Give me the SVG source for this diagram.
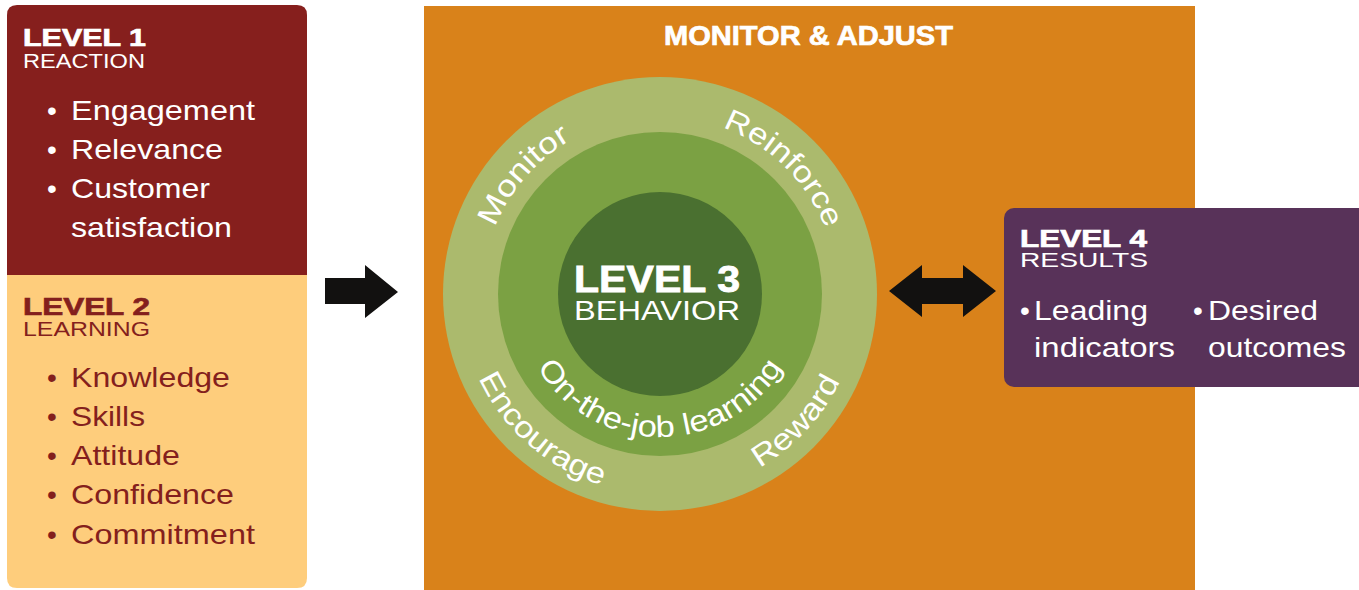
<svg xmlns="http://www.w3.org/2000/svg" width="1359" height="590" viewBox="0 0 1359 590">
<style>
text{font-family:"Liberation Sans",Arial,sans-serif}
.w{fill:#ffffff}
.r{fill:#841F1D}
.h{font-weight:bold;font-size:24px;stroke-width:0.7px}
.h.w{stroke:#ffffff}
.h.r{stroke:#841F1D}
.sub{font-size:21px}
.item{font-size:28px}
.ring{font-size:30px;fill:#ffffff}
.arrow{fill:#121110}
</style>
<defs>
<path id="pMonitor" d="M491.7,352 A178,178 0 0 1 694,119.3"/>
<path id="pReinforce" d="M612.4,122.5 A178,178 0 0 1 832.3,338.6"/>
<path id="pEncourage" d="M463.7,255.8 A200,200 0 0 0 725.1,483.1"/>
<path id="pReward" d="M615,488.9 A200,200 0 0 0 851.3,235.5"/>
<path id="pOjl" d="M517,294 A143,143 0 0 0 803,294"/>
</defs>
<rect x="0" y="0" width="1359" height="590" fill="#ffffff"/>

<g id="monitor-adjust">
<rect x="424" y="6" width="771" height="590" fill="#D9821A"/>
<text x="664" y="45" font-size="27" font-weight="bold" class="w" stroke="#ffffff" stroke-width="0.7" textLength="289" lengthAdjust="spacingAndGlyphs">MONITOR &amp; ADJUST</text>
</g>

<g id="level1">
<path d="M7,15 Q7,5 17,5 H297 Q307,5 307,15 V275 H7 Z" fill="#861F1D"/>
<text x="23" y="46" class="h w" textLength="123" lengthAdjust="spacingAndGlyphs">LEVEL 1</text>
<text x="23" y="68" class="sub w" textLength="122" lengthAdjust="spacingAndGlyphs">REACTION</text>
<g class="item w">
<text x="52" y="120" text-anchor="middle">•</text>
<text x="71" y="120" textLength="184" lengthAdjust="spacingAndGlyphs">Engagement</text>
<text x="52" y="159" text-anchor="middle">•</text>
<text x="71" y="159" textLength="152" lengthAdjust="spacingAndGlyphs">Relevance</text>
<text x="52" y="198" text-anchor="middle">•</text>
<text x="71" y="198" textLength="139" lengthAdjust="spacingAndGlyphs">Customer</text>
<text x="71" y="237" textLength="161" lengthAdjust="spacingAndGlyphs">satisfaction</text>
</g>
</g>

<g id="level2">
<path d="M7,275 H307 V578 Q307,588 297,588 H17 Q7,588 7,578 Z" fill="#FECD7C"/>
<text x="23" y="315" class="h r" textLength="127" lengthAdjust="spacingAndGlyphs">LEVEL 2</text>
<text x="23" y="336" class="sub r" textLength="127" lengthAdjust="spacingAndGlyphs">LEARNING</text>
<g class="item r">
<text x="52" y="387" text-anchor="middle">•</text>
<text x="71" y="387" textLength="159" lengthAdjust="spacingAndGlyphs">Knowledge</text>
<text x="52" y="426" text-anchor="middle">•</text>
<text x="71" y="426" textLength="74" lengthAdjust="spacingAndGlyphs">Skills</text>
<text x="52" y="465" text-anchor="middle">•</text>
<text x="71" y="465" textLength="109" lengthAdjust="spacingAndGlyphs">Attitude</text>
<text x="52" y="504" text-anchor="middle">•</text>
<text x="71" y="504" textLength="163" lengthAdjust="spacingAndGlyphs">Confidence</text>
<text x="52" y="544" text-anchor="middle">•</text>
<text x="71" y="544" textLength="184" lengthAdjust="spacingAndGlyphs">Commitment</text>
</g>
</g>

<g id="level3">
<circle cx="660" cy="294" r="217" fill="#ABBA6D"/>
<circle cx="660" cy="294" r="162" fill="#7BA143"/>
<circle cx="660" cy="294" r="102" fill="#4A7030"/>
<text class="ring"><textPath href="#pMonitor" startOffset="50%" text-anchor="middle" textLength="118" lengthAdjust="spacingAndGlyphs">Monitor</textPath></text>
<text class="ring"><textPath href="#pReinforce" startOffset="50%" text-anchor="middle" textLength="149" lengthAdjust="spacingAndGlyphs">Reinforce</textPath></text>
<text class="ring"><textPath href="#pEncourage" startOffset="50%" text-anchor="middle" textLength="168" lengthAdjust="spacingAndGlyphs">Encourage</textPath></text>
<text class="ring"><textPath href="#pReward" startOffset="50%" text-anchor="middle" textLength="120" lengthAdjust="spacingAndGlyphs">Reward</textPath></text>
<text class="ring"><textPath href="#pOjl" startOffset="50%" text-anchor="middle" textLength="295" lengthAdjust="spacingAndGlyphs">On-the-job learning</textPath></text>
<text x="574" y="292" font-size="37" font-weight="bold" class="w" stroke="#ffffff" stroke-width="0.8" textLength="166" lengthAdjust="spacingAndGlyphs">LEVEL 3</text>
<text x="574" y="320" font-size="28" class="w" textLength="166" lengthAdjust="spacingAndGlyphs">BEHAVIOR</text>
</g>

<g id="level4">
<rect x="1004" y="208" width="370" height="179" rx="10" fill="#583259"/>
<text x="1020" y="247" class="h w" textLength="127" lengthAdjust="spacingAndGlyphs">LEVEL 4</text>
<text x="1020" y="267" class="sub w" textLength="128" lengthAdjust="spacingAndGlyphs">RESULTS</text>
<g class="item w">
<text x="1025" y="320" text-anchor="middle">•</text>
<text x="1034" y="320" textLength="114" lengthAdjust="spacingAndGlyphs">Leading</text>
<text x="1034" y="357" textLength="141" lengthAdjust="spacingAndGlyphs">indicators</text>
<text x="1198" y="320" text-anchor="middle">•</text>
<text x="1208" y="320" textLength="110" lengthAdjust="spacingAndGlyphs">Desired</text>
<text x="1208" y="357" textLength="138" lengthAdjust="spacingAndGlyphs">outcomes</text>
</g>
</g>

<g id="connectors">
<polygon class="arrow" points="325,278 365,278 365,265 398,292 365,318 365,304 325,304"/>
<polygon class="arrow" points="889,291 922,265 922,278 963,278 963,265 996,291 963,317 963,304 922,304 922,317"/>
</g>
</svg>
